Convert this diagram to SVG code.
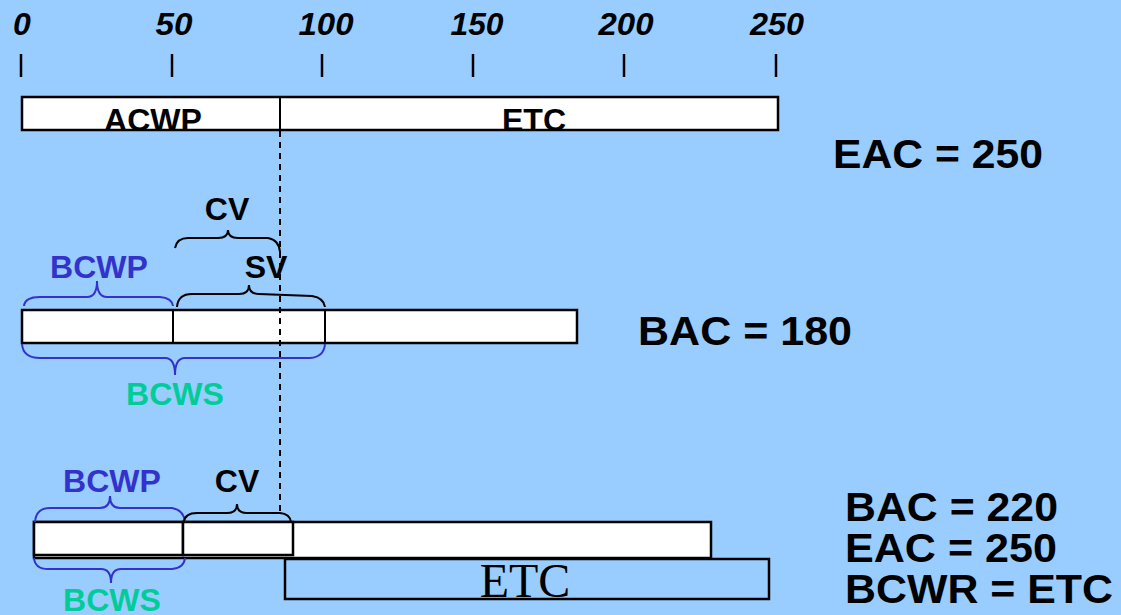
<svg xmlns="http://www.w3.org/2000/svg" width="1121" height="615" viewBox="0 0 1121 615">
<style>
.bar{fill:#fff;stroke:#000;stroke-width:2.5}
.num{font-family:"Liberation Sans",Arial,sans-serif;font-weight:bold;font-style:italic;font-size:32px;fill:#000;text-anchor:middle}
.lbl{font-family:"Liberation Sans",Arial,sans-serif;font-weight:bold;font-size:32px;text-anchor:middle}
.big{font-family:"Liberation Sans",Arial,sans-serif;font-weight:bold;font-size:41px;fill:#000}
.tick{stroke:#000;stroke-width:2.5}
.bk{fill:none;stroke:#000;stroke-width:2}
.bb{fill:none;stroke:#3333CC;stroke-width:2}
.blue{fill:#3333CC}
.teal{fill:#00CC99}
</style>
<rect x="0" y="0" width="1121" height="615" fill="#99CCFF"/>
<g id="scale">
<text class="num" x="22" y="35">0</text>
<text class="num" x="174" y="35" textLength="37" lengthAdjust="spacingAndGlyphs">50</text>
<text class="num" x="326" y="35" textLength="55" lengthAdjust="spacingAndGlyphs">100</text>
<text class="num" x="477" y="35" textLength="53" lengthAdjust="spacingAndGlyphs">150</text>
<text class="num" x="626" y="35" textLength="55" lengthAdjust="spacingAndGlyphs">200</text>
<text class="num" x="777" y="35" textLength="54" lengthAdjust="spacingAndGlyphs">250</text>
<line class="tick" x1="21" y1="54" x2="21" y2="77"/>
<line class="tick" x1="172" y1="54" x2="172" y2="77"/>
<line class="tick" x1="322" y1="54" x2="322" y2="77"/>
<line class="tick" x1="473" y1="54" x2="473" y2="77"/>
<line class="tick" x1="624" y1="54" x2="624" y2="77"/>
<line class="tick" x1="776" y1="54" x2="776" y2="77"/>
</g>
<g id="top-bar">
<rect class="bar" x="22" y="97" width="756" height="33"/>
<line x1="280" y1="97" x2="280" y2="130" stroke="#000" stroke-width="2"/>
<text class="lbl" x="153" y="131" fill="#000">ACWP</text>
<text class="lbl" x="534" y="131" fill="#000">ETC</text>
</g>
<g id="eac-top"><text class="big" x="833" y="168" textLength="210" lengthAdjust="spacingAndGlyphs">EAC = 250</text></g>
<g id="middle-bar">
<rect class="bar" x="22" y="310" width="555" height="33"/>
<line x1="173" y1="310" x2="173" y2="343" stroke="#000" stroke-width="2"/>
<line x1="325" y1="310" x2="325" y2="343" stroke="#000" stroke-width="2"/>
</g>
<g id="bac-mid"><text class="big" x="638" y="345" textLength="214" lengthAdjust="spacingAndGlyphs">BAC = 180</text></g>
<g id="bottom-bar">
<rect class="bar" x="34" y="522" width="677" height="36"/>
<rect class="bar" x="34" y="522" width="149" height="33"/>
<rect class="bar" x="183" y="522" width="110" height="33"/>
</g>
<g id="etc-bar">
<rect x="285" y="559" width="484" height="40" fill="none" stroke="#000" stroke-width="2.5"/>
<text x="525" y="597" font-family="'Liberation Serif','Times New Roman',serif" font-size="48" text-anchor="middle" fill="#000">ETC</text>
</g>
<g id="bottom-right">
<text class="big" x="845" y="521" textLength="213" lengthAdjust="spacingAndGlyphs">BAC = 220</text>
<text class="big" x="845" y="562" textLength="212" lengthAdjust="spacingAndGlyphs">EAC = 250</text>
<text class="big" x="845" y="603" textLength="268" lengthAdjust="spacingAndGlyphs">BCWR = ETC</text>
</g>
<g id="connectors">
<line x1="280" y1="131" x2="280" y2="515" stroke="#000" stroke-width="2" stroke-dasharray="6,5"/>
<path class="bk" d="M175,248 Q177,238 188,238 L218,238 Q228,238 228,230 Q228,238 238,238 L268,238 Q279,240 280,252"/>
<path class="bk" d="M177,307 Q178,294 192,294 L239,294 Q249,294 249,285 Q249,294 259,294 L312,296 Q324,298 325,307"/>
<path class="bb" d="M24,306 Q25,297 40,297 L87,297 Q97,297 97,281 Q97,297 107,297 L160,297 Q172,298 173,306"/>
<path class="bb" d="M22,344 Q23,358 40,358 L165,358 Q175,358 175,375 Q175,358 185,358 L310,358 Q324,357 325,344"/>
<path class="bb" d="M35,522 Q36,508 50,508 L100,508 Q110,508 110,496 Q110,508 120,508 L172,508 Q184,510 185,522"/>
<path class="bk" d="M184,522 Q185,513 197,513 L227,513 Q237,513 237,504 Q237,513 247,513 L280,513 Q290,514 291,522"/>
<path class="bb" d="M34,558 Q35,569 48,569 L101,569 Q111,569 111,583 Q111,569 121,569 L172,569 Q184,568 185,558"/>
</g>
<g id="labels">
<text class="lbl" x="227" y="220" fill="#000">CV</text>
<text class="lbl" x="266" y="278" fill="#000">SV</text>
<text class="lbl blue" x="99" y="278">BCWP</text>
<text class="lbl teal" x="175" y="405">BCWS</text>
<text class="lbl blue" x="112" y="492">BCWP</text>
<text class="lbl" x="237" y="492" fill="#000">CV</text>
<text class="lbl teal" x="112" y="611">BCWS</text>
</g>
</svg>
